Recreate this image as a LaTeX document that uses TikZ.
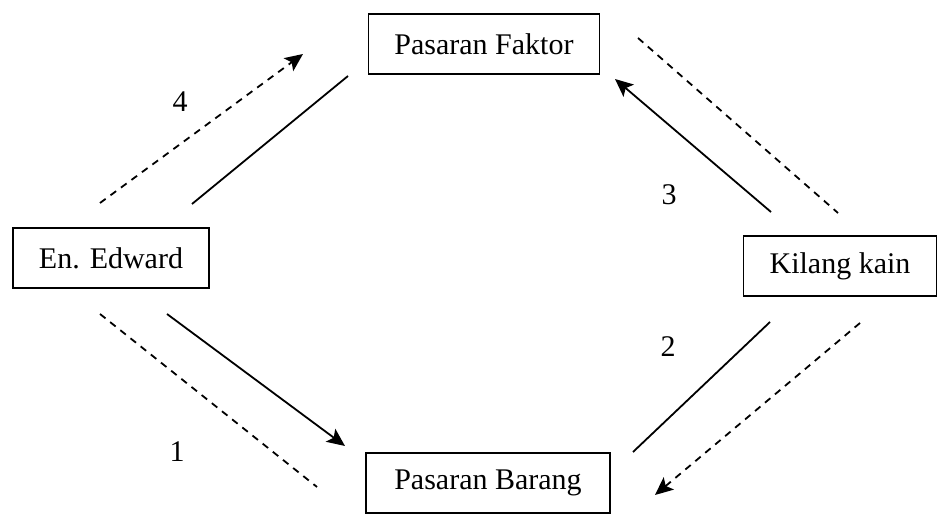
\documentclass[tikz,border=0pt]{standalone}
\usepackage{fontspec}
\setmainfont{Liberation Serif}
\usetikzlibrary{arrows.meta,positioning}

\begin{document}
\begin{tikzpicture}[x=0.5pt,y=-0.5pt,
    kotak/.style={draw, line width=0.8pt, inner xsep=13pt, minimum height=30pt, font=\fontsize{15}{18}\selectfont},
    aliran/.style={line width=0.9pt},
    putus/.style={line width=0.9pt, dash pattern=on 3.5pt off 3pt},
    hujung/.style={-{Stealth[length=9pt,width=8pt,inset=2pt]}},
    nombor/.style={font=\fontsize{15}{18}\selectfont}]
    \useasboundingbox (0,0) rectangle (938,517);

    % kotak-kotak
    \node[kotak] (faktor) at (484,44) {Pasaran Faktor};
    \node[kotak] (edward) at (111,258) {En. Edward};
    \node[kotak] (kilang) at (840,266) {Kilang kain};
    \node[kotak, minimum width=122pt] (barang) at (488,483) {Pasaran Barang};

    % hujung garisan
    \coordinate (e1) at ([shift={(-11,-55)}]edward.center);
    \coordinate (f1) at ([shift={(-181,10)}]faktor.center);
    \coordinate (e2) at ([shift={(81,-54)}]edward.center);
    \coordinate (f2) at ([shift={(-136,32)}]faktor.center);
    \coordinate (k3) at ([shift={(-69,-54)}]kilang.center);
    \coordinate (f3) at ([shift={(131,35)}]faktor.center);
    \coordinate (f4) at ([shift={(154,-6)}]faktor.center);
    \coordinate (k4) at ([shift={(-2,-53)}]kilang.center);
    \coordinate (k5) at ([shift={(-70,56)}]kilang.center);
    \coordinate (b5) at ([shift={(145,-31)}]barang.center);
    \coordinate (k6) at ([shift={(20,57)}]kilang.center);
    \coordinate (b6) at ([shift={(167,12)}]barang.center);
    \coordinate (e7) at ([shift={(-11,56)}]edward.center);
    \coordinate (b7) at ([shift={(-171,4)}]barang.center);
    \coordinate (e8) at ([shift={(56,56)}]edward.center);
    \coordinate (b8) at ([shift={(-143,-37)}]barang.center);

    % En. Edward ke Pasaran Faktor
    \draw[putus, hujung] (e1) -- (f1);
    \draw[aliran] (e2) -- (f2);

    % Kilang kain ke Pasaran Faktor
    \draw[aliran, hujung] (k3) -- (f3);
    \draw[putus] (f4) -- (k4);

    % Kilang kain ke Pasaran Barang
    \draw[aliran] (k5) -- (b5);
    \draw[putus, hujung] (k6) -- (b6);

    % En. Edward ke Pasaran Barang
    \draw[putus] (e7) -- (b7);
    \draw[aliran, hujung] (e8) -- (b8);

    % nombor
    \node[nombor] (n4) at (180,102) {4};
    \node[nombor] (n3) at (669,195) {3};
    \node[nombor] (n2) at (668,347) {2};
    \node[nombor] (n1) at (177,452) {1};
\end{tikzpicture}
\end{document}
